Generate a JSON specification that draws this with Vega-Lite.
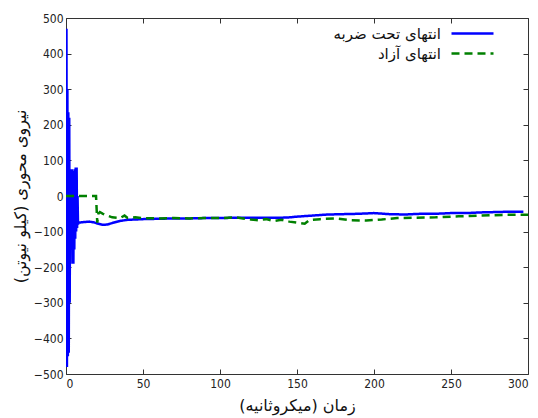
{
 "$schema": "https://vega.github.io/schema/vega-lite/v6.json",
 "width": 462, "height": 356,
 "autosize": {"type": "none"},
 "padding": {"left": 66, "top": 18, "right": 10, "bottom": 44},
 "background": "white",
 "config": {"view": {"stroke": "#333", "strokeWidth": 1}, "font": "DejaVu Sans",
   "axis": {"grid": false, "domain": false, "tickColor": "#333", "tickSize": -5, "labelColor": "#222", "labelFont": "DejaVu Sans Condensed", "labelFontSize": 12, "titleFont": "DejaVu Sans", "titleFontWeight": "normal", "titleFontSize": 16, "titleColor": "#111"}},
 "datasets": {
  "d": [
   {"t": 0, "f": 0, "s": "انتهای تحت ضربه"},
   {"t": 0.3, "f": 470, "s": "انتهای تحت ضربه"},
   {"t": 0.6, "f": -480, "s": "انتهای تحت ضربه"},
   {"t": 0.9, "f": 300, "s": "انتهای تحت ضربه"},
   {"t": 1.2, "f": -450, "s": "انتهای تحت ضربه"},
   {"t": 1.5, "f": 235, "s": "انتهای تحت ضربه"},
   {"t": 1.8, "f": -440, "s": "انتهای تحت ضربه"},
   {"t": 2.1, "f": 220, "s": "انتهای تحت ضربه"},
   {"t": 2.4, "f": -300, "s": "انتهای تحت ضربه"},
   {"t": 2.7, "f": 75, "s": "انتهای تحت ضربه"},
   {"t": 3.0, "f": -150, "s": "انتهای تحت ضربه"},
   {"t": 3.3, "f": 70, "s": "انتهای تحت ضربه"},
   {"t": 3.6, "f": -140, "s": "انتهای تحت ضربه"},
   {"t": 3.9, "f": 75, "s": "انتهای تحت ضربه"},
   {"t": 4.2, "f": -190, "s": "انتهای تحت ضربه"},
   {"t": 4.5, "f": 70, "s": "انتهای تحت ضربه"},
   {"t": 4.8, "f": -190, "s": "انتهای تحت ضربه"},
   {"t": 5.1, "f": 60, "s": "انتهای تحت ضربه"},
   {"t": 5.4, "f": -150, "s": "انتهای تحت ضربه"},
   {"t": 5.7, "f": 75, "s": "انتهای تحت ضربه"},
   {"t": 6.0, "f": -120, "s": "انتهای تحت ضربه"},
   {"t": 6.3, "f": 80, "s": "انتهای تحت ضربه"},
   {"t": 6.6, "f": -100, "s": "انتهای تحت ضربه"},
   {"t": 6.9, "f": 80, "s": "انتهای تحت ضربه"},
   {"t": 7.2, "f": -90, "s": "انتهای تحت ضربه"},
   {"t": 7.5, "f": 0, "s": "انتهای تحت ضربه"},
   {"t": 7.8, "f": -80, "s": "انتهای تحت ضربه"},
   {"t": 8.1, "f": -75, "s": "انتهای تحت ضربه"},
   {"t": 10, "f": -74, "s": "انتهای تحت ضربه"},
   {"t": 12, "f": -73, "s": "انتهای تحت ضربه"},
   {"t": 15, "f": -72, "s": "انتهای تحت ضربه"},
   {"t": 18, "f": -74, "s": "انتهای تحت ضربه"},
   {"t": 21, "f": -78, "s": "انتهای تحت ضربه"},
   {"t": 24, "f": -81, "s": "انتهای تحت ضربه"},
   {"t": 27, "f": -80, "s": "انتهای تحت ضربه"},
   {"t": 30, "f": -76, "s": "انتهای تحت ضربه"},
   {"t": 35, "f": -70, "s": "انتهای تحت ضربه"},
   {"t": 40, "f": -67, "s": "انتهای تحت ضربه"},
   {"t": 50, "f": -65, "s": "انتهای تحت ضربه"},
   {"t": 60, "f": -64, "s": "انتهای تحت ضربه"},
   {"t": 70, "f": -63, "s": "انتهای تحت ضربه"},
   {"t": 80, "f": -63, "s": "انتهای تحت ضربه"},
   {"t": 90, "f": -62, "s": "انتهای تحت ضربه"},
   {"t": 100, "f": -62, "s": "انتهای تحت ضربه"},
   {"t": 110, "f": -61, "s": "انتهای تحت ضربه"},
   {"t": 120, "f": -61, "s": "انتهای تحت ضربه"},
   {"t": 130, "f": -61, "s": "انتهای تحت ضربه"},
   {"t": 140, "f": -61, "s": "انتهای تحت ضربه"},
   {"t": 145, "f": -60, "s": "انتهای تحت ضربه"},
   {"t": 150, "f": -58, "s": "انتهای تحت ضربه"},
   {"t": 160, "f": -55, "s": "انتهای تحت ضربه"},
   {"t": 170, "f": -52, "s": "انتهای تحت ضربه"},
   {"t": 180, "f": -51, "s": "انتهای تحت ضربه"},
   {"t": 190, "f": -50, "s": "انتهای تحت ضربه"},
   {"t": 200, "f": -48, "s": "انتهای تحت ضربه"},
   {"t": 210, "f": -51, "s": "انتهای تحت ضربه"},
   {"t": 220, "f": -52, "s": "انتهای تحت ضربه"},
   {"t": 230, "f": -50, "s": "انتهای تحت ضربه"},
   {"t": 240, "f": -50, "s": "انتهای تحت ضربه"},
   {"t": 250, "f": -48, "s": "انتهای تحت ضربه"},
   {"t": 260, "f": -48, "s": "انتهای تحت ضربه"},
   {"t": 270, "f": -46, "s": "انتهای تحت ضربه"},
   {"t": 280, "f": -45, "s": "انتهای تحت ضربه"},
   {"t": 290, "f": -44, "s": "انتهای تحت ضربه"},
   {"t": 297, "f": -44, "s": "انتهای تحت ضربه"},
   {"t": 0, "f": 0, "s": "انتهای آزاد"},
   {"t": 10, "f": 0, "s": "انتهای آزاد"},
   {"t": 19.5, "f": 0, "s": "انتهای آزاد"},
   {"t": 20.3, "f": -75, "s": "انتهای آزاد"},
   {"t": 21, "f": -50, "s": "انتهای آزاد"},
   {"t": 22, "f": -45, "s": "انتهای آزاد"},
   {"t": 24, "f": -50, "s": "انتهای آزاد"},
   {"t": 27, "f": -55, "s": "انتهای آزاد"},
   {"t": 30, "f": -60, "s": "انتهای آزاد"},
   {"t": 35, "f": -62, "s": "انتهای آزاد"},
   {"t": 38, "f": -55, "s": "انتهای آزاد"},
   {"t": 40, "f": -62, "s": "انتهای آزاد"},
   {"t": 45, "f": -60, "s": "انتهای آزاد"},
   {"t": 50, "f": -62, "s": "انتهای آزاد"},
   {"t": 60, "f": -63, "s": "انتهای آزاد"},
   {"t": 70, "f": -62, "s": "انتهای آزاد"},
   {"t": 80, "f": -63, "s": "انتهای آزاد"},
   {"t": 90, "f": -62, "s": "انتهای آزاد"},
   {"t": 100, "f": -62, "s": "انتهای آزاد"},
   {"t": 110, "f": -60, "s": "انتهای آزاد"},
   {"t": 115, "f": -63, "s": "انتهای آزاد"},
   {"t": 120, "f": -66, "s": "انتهای آزاد"},
   {"t": 125, "f": -68, "s": "انتهای آزاد"},
   {"t": 130, "f": -65, "s": "انتهای آزاد"},
   {"t": 135, "f": -70, "s": "انتهای آزاد"},
   {"t": 140, "f": -67, "s": "انتهای آزاد"},
   {"t": 145, "f": -72, "s": "انتهای آزاد"},
   {"t": 150, "f": -75, "s": "انتهای آزاد"},
   {"t": 155, "f": -78, "s": "انتهای آزاد"},
   {"t": 158, "f": -68, "s": "انتهای آزاد"},
   {"t": 165, "f": -65, "s": "انتهای آزاد"},
   {"t": 175, "f": -63, "s": "انتهای آزاد"},
   {"t": 185, "f": -68, "s": "انتهای آزاد"},
   {"t": 195, "f": -69, "s": "انتهای آزاد"},
   {"t": 205, "f": -66, "s": "انتهای آزاد"},
   {"t": 215, "f": -62, "s": "انتهای آزاد"},
   {"t": 225, "f": -61, "s": "انتهای آزاد"},
   {"t": 240, "f": -60, "s": "انتهای آزاد"},
   {"t": 255, "f": -57, "s": "انتهای آزاد"},
   {"t": 270, "f": -55, "s": "انتهای آزاد"},
   {"t": 285, "f": -53, "s": "انتهای آزاد"},
   {"t": 300, "f": -53, "s": "انتهای آزاد"}
  ]
 },
 "data": {"name": "d"},
 "layer": [
  {
   "mark": {"type": "line", "strokeWidth": 2.5, "clip": true},
   "encoding": {
    "x": {"field": "t", "type": "quantitative", "scale": {"domain": [0, 300], "nice": false},
      "axis": {"orient": "bottom", "values": [0, 50, 100, 150, 200, 250, 300], "labelPadding": 9, "title": "زمان (میکروثانیه)", "titlePadding": 8}},
    "y": {"field": "f", "type": "quantitative", "scale": {"domain": [-500, 500], "nice": false},
      "axis": {"orient": "left", "values": [-500, -400, -300, -200, -100, 0, 100, 200, 300, 400, 500], "labelPadding": 8, "title": "نیروی محوری (کیلو نیوتن)", "titlePadding": 5}},
    "color": {"field": "s", "type": "nominal", "sort": ["انتهای تحت ضربه", "انتهای آزاد"],
      "scale": {"domain": ["انتهای تحت ضربه", "انتهای آزاد"], "range": ["#0000ff", "#008000"]},
      "legend": {"title": null, "orient": "none", "legendX": 398, "legendY": 7, "padding": 0, "symbolType": "M-3,0H3", "symbolSize": 196, "symbolStrokeWidth": 2.5, "labelAlign": "right", "labelOffset": -40, "labelFont": "DejaVu Sans", "labelFontSize": 15, "labelColor": "#111", "rowPadding": 3, "labelLimit": 300}},
    "strokeDash": {"field": "s", "type": "nominal", "sort": ["انتهای تحت ضربه", "انتهای آزاد"],
      "scale": {"domain": ["انتهای تحت ضربه", "انتهای آزاد"], "range": [[1, 0], [8, 5]]},
      "legend": {"title": null, "orient": "none", "legendX": 398, "legendY": 7, "padding": 0, "symbolType": "M-3,0H3", "symbolSize": 196, "symbolStrokeWidth": 2.5, "labelAlign": "right", "labelOffset": -40, "labelFont": "DejaVu Sans", "labelFontSize": 15, "labelColor": "#111", "rowPadding": 3, "labelLimit": 300}}
   }
  },
  {
   "mark": {"type": "point", "opacity": 0},
   "encoding": {
    "x": {"field": "t", "type": "quantitative", "axis": {"orient": "top", "values": [0, 50, 100, 150, 200, 250, 300], "labels": false, "title": null}},
    "y": {"field": "f", "type": "quantitative", "axis": {"orient": "right", "values": [-500, -400, -300, -200, -100, 0, 100, 200, 300, 400, 500], "labels": false, "title": null}}
   }
  }
 ],
 "resolve": {"axis": {"x": "independent", "y": "independent"}}
}
